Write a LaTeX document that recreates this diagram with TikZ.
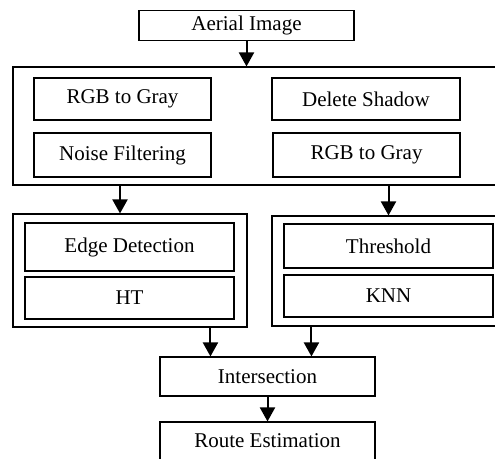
\documentclass[tikz,border=0pt]{standalone}
\usepackage{fontspec}
\setmainfont{Liberation Serif}
\usetikzlibrary{arrows.meta}
\begin{document}
\begin{tikzpicture}[x=1pt,y=-1pt,
  box/.style={draw, line width=1.1pt, inner sep=0pt, font=\fontsize{21}{25}\selectfont},
  grp/.style={draw, line width=1.1pt, inner sep=0pt},
  arr/.style={line width=2pt, -{Triangle[length=14pt,width=15pt]}}]
  \useasboundingbox (0,0) rectangle (495,458);
  \clip (0,0) rectangle (495,458);

  % input
  \node[box, minimum width=215pt, minimum height=30pt] (aerial) at (246.5,25.7) {Aerial Image};

  % preprocessing group
  \node[grp, minimum width=492pt, minimum height=118pt] (pre) at (259,126) {};
  \node[box, minimum width=177pt, minimum height=42pt] (rgbA) at (122.5,99) {RGB to Gray};
  \node[box, minimum width=177pt, minimum height=44pt] (noise) at (122.5,155) {Noise Filtering};
  \node[box, minimum width=188pt, minimum height=42pt] (shadow) at (366,99) {Delete Shadow};
  \node[box, minimum width=187pt, minimum height=44pt] (rgbB) at (366.5,155) {RGB to Gray};

  % left branch
  \node[grp, minimum width=234pt, minimum height=113pt] (leftgrp) at (130,270.5) {};
  \node[box, minimum width=209pt, minimum height=48pt] (edge) at (129.5,247) {Edge Detection};
  \node[box, minimum width=209pt, minimum height=42pt] (ht) at (129.5,298) {HT};

  % right branch
  \node[grp, minimum width=233pt, minimum height=110pt] (rightgrp) at (388.5,271) {};
  \node[box, minimum width=209pt, minimum height=44pt] (thresh) at (388.5,246) {Threshold};
  \node[box, minimum width=209pt, minimum height=42pt] (knn) at (388.5,296) {KNN};

  % merge and output
  \node[box, minimum width=215pt, minimum height=39pt] (inter) at (267.5,376.5) {Intersection};
  \node[box, minimum width=215pt, minimum height=38pt] (route) at (267.5,441) {Route Estimation};

  % connectors
  \draw[arr] (aerial.south) -- (aerial.south |- pre.north);
  \draw[arr] ([xshift=-10pt]leftgrp.north |- pre.south) -- ([xshift=-10pt]leftgrp.north);
  \draw[arr] (rightgrp.north |- pre.south) -- (rightgrp.north);
  \draw[arr] ([xshift=51pt]inter.north west |- leftgrp.south) -- ([xshift=51pt]inter.north west);
  \draw[arr] ([xshift=152pt]inter.north west |- rightgrp.south) -- ([xshift=152pt]inter.north west);
  \draw[arr] (inter.south) -- (route.north);
\end{tikzpicture}
\end{document}
